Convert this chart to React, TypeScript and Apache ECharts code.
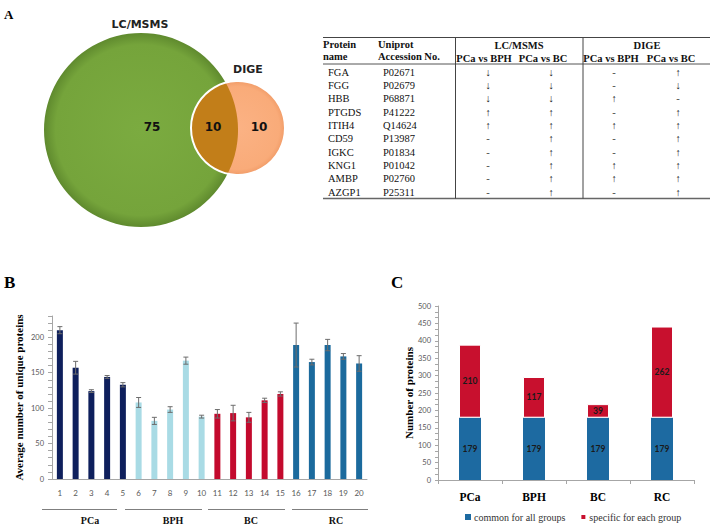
import React, { useEffect, useRef } from "react";
import * as echarts from "echarts";

// ---------- Panel A: Venn ----------
const vennSetNames = ["LC/MSMS", "DIGE"];
const vennCounts = [75, 10, 10]; // LC only, both, DIGE only

// ---------- Panel A: table ----------
const tableProteins = ["FGA", "FGG", "HBB", "PTGDS", "ITIH4", "CD59", "IGKC", "KNG1", "AMBP", "AZGP1"];
const tableAccessions = ["P02671", "P02679", "P68871", "P41222", "Q14624", "P13987", "P01834", "P01042", "P02760", "P25311"];
const lcVsBph = ["↓", "↓", "↓", "↑", "↑", "-", "-", "-", "-", "-"];
const lcVsBc = ["↓", "↓", "↓", "↑", "↑", "↑", "↑", "↑", "↑", "↑"];
const digeVsBph = ["-", "-", "↑", "-", "↑", "-", "-", "↑", "↑", "-"];
const digeVsBc = ["↑", "↓", "-", "↑", "↑", "↑", "↑", "↑", "↑", "↑"];
const tableMethods = ["LC/MSMS", "DIGE"];
const tableComparisons = ["PCa vs BPH", "PCa vs BC"];

// ---------- Panel B ----------
const sampleLabels = ["1", "2", "3", "4", "5", "6", "7", "8", "9", "10", "11", "12", "13", "14", "15", "16", "17", "18", "19", "20"];
const sampleGroups = ["PCa", "BPH", "BC", "RC"];
const avgProteins = [210, 157, 124, 144, 133, 108, 82, 98, 167, 88, 92, 93, 87, 111, 120, 189, 165, 189, 173, 163];
const avgErrors = [5, 9, 2, 2, 3, 7, 5, 4, 5, 2, 6, 11, 7, 3, 3, 31, 4, 8, 4, 11];
const bYTicks = [0, 50, 100, 150, 200];

// ---------- Panel C ----------
const cCategories = ["PCa", "BPH", "BC", "RC"];
const commonCounts = [179, 179, 179, 179];
const specificCounts = [210, 117, 39, 262];
const cSeriesNames = ["common for all groups", "specific for each group"];

// ---------- styles / layout ----------
const groupColors = ["#0e1f5c", "#a9dbe5", "#c30a2d", "#1b6a9d"];
const cColors = ["#1d6aa1", "#c8102e"];
const SERIF = '"Liberation Serif", "Times New Roman", serif';
const SANS = '"Lato", "Open Sans", sans-serif';

const bigC = { x: 141, y: 130, r: 97 };
const smallC = { x: 238, y: 128, r: 47 };
const groupLineSpans = [[42, 117], [125, 202], [208, 285], [292, 368]];
const groupLabelX = [90, 173, 251, 336];

function lensPolygon() {
  const dx = smallC.x - bigC.x, dy = smallC.y - bigC.y;
  const d = Math.sqrt(dx * dx + dy * dy);
  const a = (bigC.r * bigC.r - smallC.r * smallC.r + d * d) / (2 * d);
  const h = Math.sqrt(bigC.r * bigC.r - a * a);
  const ux = dx / d, uy = dy / d;
  const mx = bigC.x + a * ux, my = bigC.y + a * uy;
  const p1 = [mx + h * uy, my - h * ux];
  const p2 = [mx - h * uy, my + h * ux];
  const ang = (c: any, p: number[]) => Math.atan2(p[1] - c.y, p[0] - c.x);
  const pts: number[][] = [];
  const N = 60;
  const top = p1[1] < p2[1] ? p1 : p2;
  const bot = p1[1] < p2[1] ? p2 : p1;
  let s0 = ang(smallC, top), s1 = ang(smallC, bot);
  if (s0 < 0) s0 += 2 * Math.PI;
  if (s1 < 0) s1 += 2 * Math.PI;
  for (let i = 0; i <= N; i++) {
    const t = s0 - (s0 - s1) * (i / N);
    pts.push([smallC.x + smallC.r * Math.cos(t), smallC.y + smallC.r * Math.sin(t)]);
  }
  const b0 = ang(bigC, bot), b1 = ang(bigC, top);
  for (let i = 0; i <= N; i++) {
    const t = b0 + (b1 - b0) * (i / N);
    pts.push([bigC.x + bigC.r * Math.cos(t), bigC.y + bigC.r * Math.sin(t)]);
  }
  return pts;
}

function txt(x: number, y: number, text: string, font: string, align = "left", fill = "#111") {
  return {
    type: "text",
    x,
    y,
    silent: true,
    style: { text, font, fill, align, verticalAlign: "middle", textAlign: align, textVerticalAlign: "middle" },
  };
}
function ln(x1: number, y1: number, x2: number, y2: number, stroke = "#555", lineWidth = 1) {
  return { type: "line", silent: true, shape: { x1, y1, x2, y2 }, style: { stroke, lineWidth } };
}

function buildGraphics() {
  const g: any[] = [];
  g.push(txt(4, 14, "A", `bold 13px ${SERIF}`, "left", "#000"));
  g.push(txt(4, 282, "B", `bold 17px ${SERIF}`, "left", "#000"));
  g.push(txt(391, 282, "C", `bold 17px ${SERIF}`, "left", "#000"));

  // Venn
  g.push({
    type: "circle", silent: true, shape: { cx: bigC.x, cy: bigC.y, r: bigC.r },
    style: {
      fill: { type: "radial", x: 0.5, y: 0.5, r: 0.5, colorStops: [{ offset: 0, color: "#7bab40" }, { offset: 0.88, color: "#75a43b" }, { offset: 1, color: "#5f8a2e" }] },
    },
  });
  g.push({
    type: "circle", silent: true, shape: { cx: smallC.x, cy: smallC.y, r: smallC.r },
    style: {
      fill: { type: "radial", x: 0.5, y: 0.5, r: 0.5, colorStops: [{ offset: 0, color: "#fbb284" }, { offset: 0.88, color: "#f9ab79" }, { offset: 1, color: "#f19c68" }] },
    },
  });
  g.push({ type: "polygon", silent: true, shape: { points: lensPolygon() }, style: { fill: "#c27e19" } });
  g.push({ type: "circle", silent: true, shape: { cx: smallC.x, cy: smallC.y, r: smallC.r }, style: { fill: "none", stroke: "#ffffff", lineWidth: 2 } });
  const vennFont = `bold 11px "DejaVu Sans", Verdana, sans-serif`;
  g.push(txt(140, 24, vennSetNames[0], vennFont, "center", "#222"));
  g.push(txt(248, 69, vennSetNames[1], vennFont, "center", "#222"));
  const numFont = `bold 12px "DejaVu Sans", Verdana, sans-serif`;
  g.push(txt(152, 127, String(vennCounts[0]), numFont, "center", "#111"));
  g.push(txt(213, 127, String(vennCounts[1]), numFont, "center", "#111"));
  g.push(txt(259, 127, String(vennCounts[2]), numFont, "center", "#111"));

  // Table
  const hb = `bold 10.5px ${SERIF}`;
  const rf = `10.5px ${SERIF}`;
  g.push(ln(323, 37.5, 710, 37.5, "#444", 1.2));
  g.push(ln(323, 64, 710, 64, "#555", 1));
  g.push(ln(323, 198.5, 710, 198.5, "#666", 1.6));
  g.push(ln(455.5, 37.5, 455.5, 198.5, "#444", 1));
  g.push(ln(583, 37.5, 583, 198.5, "#444", 1));
  g.push(txt(323, 44, "Protein", hb));
  g.push(txt(323, 56.5, "name", hb));
  g.push(txt(378, 44, "Uniprot", hb));
  g.push(txt(378, 56.5, "Accession No.", hb));
  g.push(txt(519, 45.5, tableMethods[0], hb, "center"));
  g.push(txt(647, 45.5, tableMethods[1], hb, "center"));
  g.push(txt(484, 58.5, tableComparisons[0], hb, "center"));
  g.push(txt(543, 58.5, tableComparisons[1], hb, "center"));
  g.push(txt(611, 58.5, tableComparisons[0], hb, "center"));
  g.push(txt(671, 58.5, tableComparisons[1], hb, "center"));
  const cols = [lcVsBph, lcVsBc, digeVsBph, digeVsBc];
  const colX = [488, 551, 614, 678];
  tableProteins.forEach((p, i) => {
    const y = 72.3 + i * 13.33;
    g.push(txt(328, y, p, rf));
    g.push(txt(383, y, tableAccessions[i], rf));
    cols.forEach((c, j) => {
      const s = c[i];
      g.push(txt(colX[j], y, s, `10.5px ${SERIF}`, "center", s === "-" ? "#444" : "#222"));
    });
  });

  // Panel B group lines and labels
  sampleGroups.forEach((gname, i) => {
    const [x1, x2] = groupLineSpans[i];
    g.push(ln(x1, 509.5, x2, 509.5, "#7f7f7f", 1));
    g.push(txt(groupLabelX[i], 520, gname, `bold 10px ${SERIF}`, "center", "#111"));
  });
  return g;
}

export default function App() {
  const ref = useRef<HTMLDivElement>(null);
  useEffect(() => {
    if (!ref.current) return;
    const chart = echarts.init(ref.current, undefined, { renderer: "svg" });
    const axisGray = "#a6a6a6";
    const labelGray = "#595959";
    const option: any = {
      animation: false,
      backgroundColor: "#ffffff",
      grid: [
        { left: 52, top: 316, width: 315, height: 163 },
        { left: 438, top: 306, width: 256, height: 174 },
      ],
      xAxis: [
        {
          type: "category", gridIndex: 0, data: sampleLabels,
          axisLine: { lineStyle: { color: axisGray } },
          axisTick: { show: false },
          axisLabel: { color: labelGray, fontSize: 8, fontFamily: SANS, margin: 10 },
        },
        {
          type: "category", gridIndex: 1, data: cCategories,
          axisLine: { lineStyle: { color: axisGray } },
          axisTick: { show: true, alignWithLabel: false, length: 4, lineStyle: { color: axisGray } },
          axisLabel: { color: "#000", fontSize: 11.5, fontWeight: "bold", fontFamily: SERIF, margin: 11 },
        },
      ],
      yAxis: [
        {
          type: "value", gridIndex: 0, min: 0, max: 230, interval: 50,
          axisLine: { show: true, lineStyle: { color: axisGray } },
          axisTick: { show: true, length: 4, lineStyle: { color: axisGray } },
          minorTick: { show: true, splitNumber: 5, length: 4, lineStyle: { color: axisGray } },
          splitLine: { show: false },
          axisLabel: {
            color: labelGray, fontSize: 7.5, fontFamily: SANS, margin: 8,
            formatter: (v: number) => (bYTicks.indexOf(v) >= 0 ? String(v) : ""),
          },
          name: "Average number of unique proteins", nameLocation: "middle", nameRotate: 90, nameGap: 28,
          nameTextStyle: { fontFamily: SERIF, fontWeight: "bold", fontSize: 11, color: "#000" },
        },
        {
          type: "value", gridIndex: 1, min: 0, max: 500, interval: 50,
          axisLine: { show: true, lineStyle: { color: axisGray } },
          axisTick: { show: true, length: 3, lineStyle: { color: axisGray } },
          minorTick: { show: true, splitNumber: 3, length: 3, lineStyle: { color: axisGray } },
          splitLine: { show: false },
          axisLabel: { color: labelGray, fontSize: 7.5, fontFamily: SANS, margin: 7 },
          name: "Number of proteins", nameLocation: "middle", nameRotate: 90, nameGap: 22,
          nameTextStyle: { fontFamily: SERIF, fontWeight: "bold", fontSize: 11, color: "#000" },
        },
      ],
      legend: {
        data: cSeriesNames, left: 460, top: 507, itemWidth: 6, itemHeight: 6, itemGap: 14, icon: "rect",
        textStyle: { fontFamily: SERIF, fontSize: 10, color: "#333", padding: [0, 0, 0, -2] },
        selectedMode: false,
      },
      series: [
        {
          type: "bar", xAxisIndex: 0, yAxisIndex: 0, barWidth: 6,
          data: avgProteins.map((v, i) => ({ value: v, itemStyle: { color: groupColors[Math.floor(i / 5)] } })),
        },
        {
          type: "custom", xAxisIndex: 0, yAxisIndex: 0,
          data: avgProteins.map((v, i) => [i, v, avgErrors[i]]),
          encode: { x: 0, y: 1 },
          z: 10,
          renderItem: (params: any, api: any) => {
            const i = api.value(0), v = api.value(1), e = api.value(2);
            const top = api.coord([i, v + e]);
            const bot = api.coord([i, v - e]);
            const w = 2.5;
            const st = { stroke: "#6d6d6d", lineWidth: 1 };
            return {
              type: "group",
              children: [
                { type: "line", shape: { x1: top[0], y1: top[1], x2: bot[0], y2: bot[1] }, style: st },
                { type: "line", shape: { x1: top[0] - w, y1: top[1], x2: top[0] + w, y2: top[1] }, style: st },
                { type: "line", shape: { x1: bot[0] - w, y1: bot[1], x2: bot[0] + w, y2: bot[1] }, style: st },
              ],
            };
          },
        },
        {
          name: cSeriesNames[0], type: "bar", xAxisIndex: 1, yAxisIndex: 1, stack: "c", barWidth: 22,
          data: commonCounts, itemStyle: { color: cColors[0] },
          label: { show: true, position: "inside", color: "#1a1a1a", fontSize: 8.5, fontWeight: "bold", fontFamily: SANS },
        },
        {
          name: cSeriesNames[1], type: "bar", xAxisIndex: 1, yAxisIndex: 1, stack: "c", barWidth: 22,
          data: specificCounts, itemStyle: { color: cColors[1], borderColor: "#ffffff", borderWidth: 1 },
          label: { show: true, position: "inside", color: "#1a1a1a", fontSize: 8.5, fontWeight: "bold", fontFamily: SANS },
        },
      ],
      graphic: buildGraphics(),
    };
    chart.setOption(option);
    return () => chart.dispose();
  }, []);
  return <div ref={ref} style={{ position: "fixed", left: 0, top: 0, width: 714, height: 528 }} />;
}
